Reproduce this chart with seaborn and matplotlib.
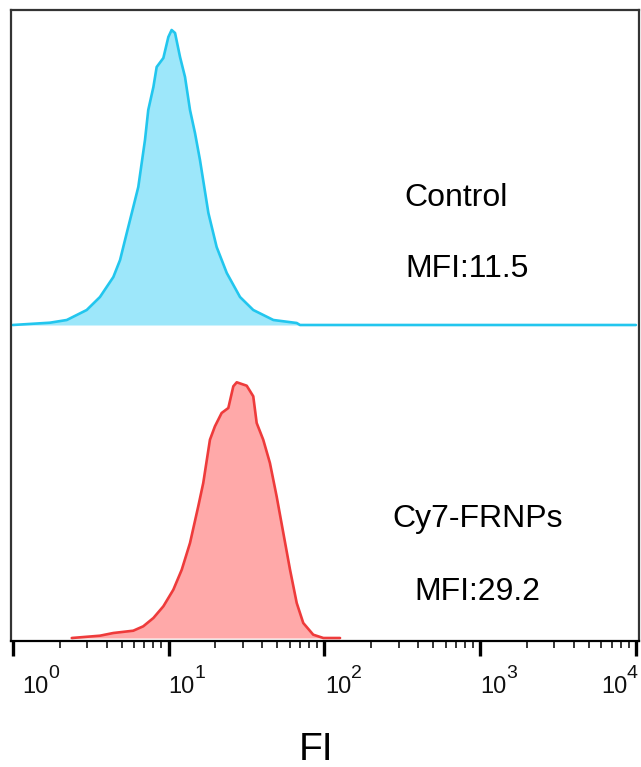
import numpy as np
import pandas as pd
import matplotlib
matplotlib.use("Agg")
import matplotlib.pyplot as plt
import seaborn as sns

# curves: log10(FI) and event counts (arbitrary units)
control_log_fi = [0.0, 0.239, 0.347, 0.475, 0.56, 0.646, 0.689, 0.732, 0.774, 0.806,
                  0.849, 0.87, 0.903, 0.924, 0.967, 0.999, 1.02, 1.042, 1.074, 1.106,
                  1.138, 1.17, 1.202, 1.256, 1.309, 1.374, 1.459, 1.544, 1.673, 1.823,
                  1.844, 4.0]
control_counts = [0, 2.3, 5, 15, 28, 48, 65, 92, 118, 138,
                  185, 215, 238, 258, 267, 288, 295, 292, 268, 248,
                  215, 192, 165, 112, 78, 52, 28, 15, 5, 2,
                  0, 0]

cy7_log_fi = [0.379, 0.56, 0.646, 0.774, 0.838, 0.903, 0.967, 1.031, 1.085, 1.138,
              1.191, 1.223, 1.266, 1.298, 1.341, 1.384, 1.416, 1.438, 1.502, 1.544,
              1.566, 1.608, 1.651, 1.694, 1.737, 1.78, 1.823, 1.865, 1.929, 1.994,
              2.101]
cy7_counts = [0, 2.3, 5, 7.3, 11.7, 20, 31.7, 48.3, 68.3, 95,
              131.7, 155, 198.3, 211.7, 225, 230, 251.7, 255.7, 252.3, 241.7,
              215, 198.3, 175, 141.7, 105, 68.3, 35, 15, 3.3, 0,
              0]

samples = ["Control", "Cy7-FRNPs"]
mfi_labels = ["MFI:11.5", "MFI:29.2"]
decades = [0, 1, 2, 3, 4]

W, H, DPI = 641, 767, 100

sns.set_style("white")
plt.rcParams["font.family"] = ["Liberation Sans", "DejaVu Sans"]
plt.rcParams["text.color"] = "black"

fig = plt.figure(figsize=(W / DPI, H / DPI), dpi=DPI)
ax = fig.add_axes([11 / W, 1 - 641 / H, (639 - 11) / W, (641 - 10) / H])


def _draw(log_fi, counts, offset, line_col, fill_col):
    df = pd.DataFrame({"fi": 10 ** np.array(log_fi), "n": np.array(counts) + offset})
    ax.fill_between(df["fi"], offset, df["n"], color=fill_col, lw=0, zorder=1)
    sns.lineplot(data=df, x="fi", y="n", ax=ax, color=line_col, lw=1.9,
                 sort=False, estimator=None, zorder=2)


_draw(control_log_fi, control_counts, 316, "#22c6ee", "#9de7fa")
_draw(cy7_log_fi, cy7_counts, 3, "#ee3b3b", "#ffa9a9")

ax.set_xscale("log")
ax.set_xlim(10 ** -0.011, 10 ** 4.02)
ax.set_ylim(0, 631)
ax.set_xlabel("")
ax.set_ylabel("")
ax.set_yticks([])

for side in ["left", "top", "right"]:
    ax.spines[side].set_color("#333333")
    ax.spines[side].set_linewidth(1.6)
ax.spines["bottom"].set_color("black")
ax.spines["bottom"].set_linewidth(1.6)

ax.set_xticks([10 ** d for d in decades])
ax.xaxis.set_minor_locator(matplotlib.ticker.LogLocator(base=10, subs=np.arange(2, 10)))
ax.xaxis.set_minor_formatter(matplotlib.ticker.NullFormatter())
ax.set_xticklabels([])
ax.tick_params(axis="x", which="major", direction="out", length=11, width=2.4,
               color="black", bottom=True)
ax.tick_params(axis="x", which="minor", direction="out", length=5, width=1.1,
               color="black", bottom=True)

# tick labels sit a bit right of their ticks, the last one is pulled inside
label_dx = [10, 0, 1, 0, -35]
for d, dx in zip(decades, label_dx):
    ax.annotate("10", xy=(10 ** d, 0), xycoords=("data", "axes fraction"),
                xytext=(dx, -52), textcoords="offset pixels", ha="left",
                va="baseline", fontsize=17, color="#111111")
    ax.annotate(str(d), xy=(10 ** d, 0), xycoords=("data", "axes fraction"),
                xytext=(dx + 26, -37), textcoords="offset pixels", ha="left",
                va="baseline", fontsize=14, color="#111111")

fig.text(316 / W, 1 - 760 / H, "FI", ha="center", va="baseline", fontsize=28)

fig.text(404 / W, 1 - 206 / H, samples[0], ha="left", va="baseline", fontsize=23)
fig.text(405 / W, 1 - 277 / H, mfi_labels[0], ha="left", va="baseline", fontsize=23)
fig.text(392 / W, 1 - 527 / H, samples[1], ha="left", va="baseline", fontsize=23)
fig.text(414 / W, 1 - 600 / H, mfi_labels[1], ha="left", va="baseline", fontsize=23)

fig.savefig("out.png", dpi=DPI)
